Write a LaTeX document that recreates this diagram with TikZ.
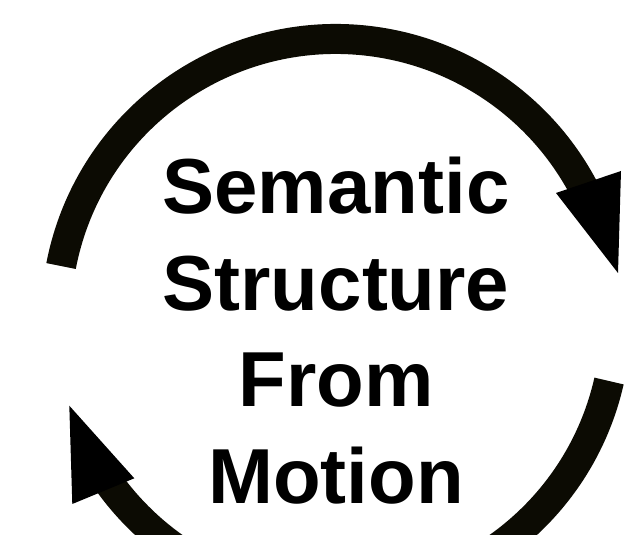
\documentclass[tikz,border=0pt]{standalone}
\usepackage{fontspec}
\setmainfont{Liberation Sans}
\definecolor{ringink}{RGB}{12,11,3}
\tikzset{
  titleline/.style={anchor=base, inner sep=0pt, font=\fontsize{78}{94}\selectfont\bfseries, text=black},
  ringband/.style={draw=ringink, line width=30pt, line cap=butt},
  headfill/.style={fill=black, draw=none}
}
\begin{document}
\begin{tikzpicture}[x=1pt,y=1pt]
  % canvas in pixel-like units, origin at lower left
  \useasboundingbox (0,0) rectangle (638,535);
  \clip (0,0) rectangle (638,535);
  \fill[white] (0,0) rectangle (638,535);

  % centre of the cycle ring
  \coordinate (ctr) at (336,216);

  % upper band, running clockwise towards the right-hand head
  \draw[ringband] (ctr) ++(169.1:280) arc[start angle=169.1, end angle=25, radius=280];
  \coordinate (h1a) at (556,342);
  \coordinate (h1b) at (621,364);
  \coordinate (h1tip) at (618,262);
  \fill[headfill] (h1a) -- (h1b) -- (h1tip) -- cycle;

  % lower band, running clockwise towards the left-hand head
  \draw[ringband] (ctr) ++(347.2:280) arc[start angle=347.2, end angle=213, radius=280];
  \coordinate (h2a) at (72.3,31);
  \coordinate (h2b) at (134.3,56.7);
  \coordinate (h2tip) at (69.3,129.3);
  \fill[headfill] (h2a) -- (h2b) -- (h2tip) -- cycle;

  % title, one line per node
  \node[titleline] (t1) at (336,321) {Semantic};
  \node[titleline] (t2) at (336,224.5) {Structure};
  \node[titleline] (t3) at (336,128.3) {From};
  \node[titleline] (t4) at (336,31.7) {Motion};
\end{tikzpicture}
\end{document}
